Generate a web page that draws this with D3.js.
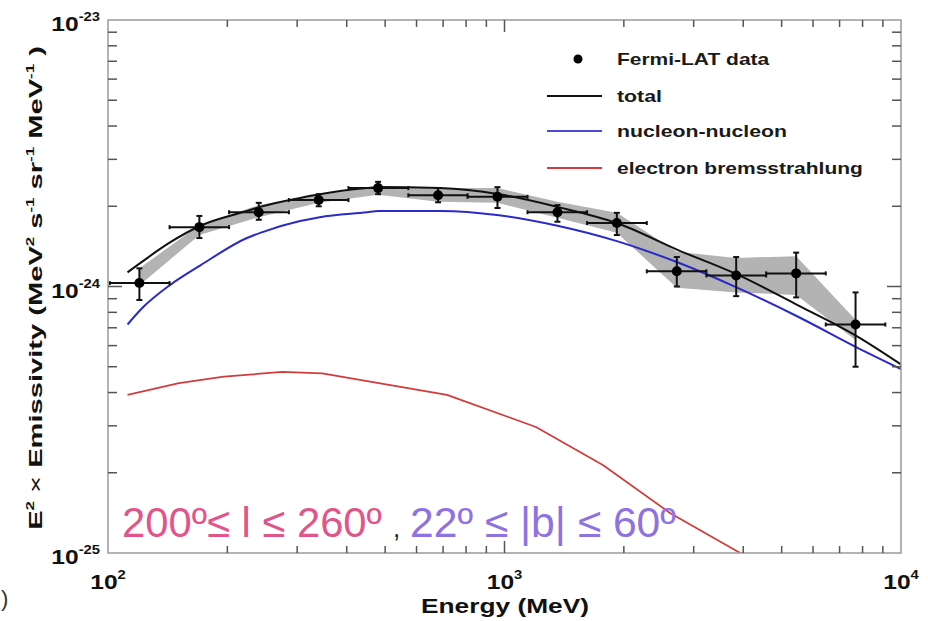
<!DOCTYPE html>
<html><head><meta charset="utf-8">
<script src="https://cdn.jsdelivr.net/npm/d3@7"></script>
<style>
html,body{margin:0;padding:0;background:#fff;}
svg{display:block;font-family:"Liberation Sans",Arial,sans-serif;}
</style></head><body>
<svg id="c" width="928" height="621"></svg>
<script>
// ---- Fermi-LAT data points ----
const energy  = [120,170,240,340,480,680,960,1360,1920,2720,3840,5440,7680];
const eLow    = [101,143,202,286,404,572,807,1143,1615,2285,3230,4570,6460];
const eHigh   = [143,202,286,404,572,807,1143,1615,2285,3230,4570,6460,9130];
const emis    = [1.03e-24,1.67e-24,1.90e-24,2.11e-24,2.34e-24,2.20e-24,2.17e-24,1.90e-24,1.73e-24,1.14e-24,1.10e-24,1.12e-24,0.72e-24];
const emisLo  = [0.89e-24,1.52e-24,1.78e-24,2.00e-24,2.22e-24,2.07e-24,1.97e-24,1.75e-24,1.56e-24,1.00e-24,0.92e-24,0.91e-24,0.50e-24];
const emisHi  = [1.17e-24,1.84e-24,2.06e-24,2.22e-24,2.47e-24,2.34e-24,2.36e-24,2.02e-24,1.89e-24,1.29e-24,1.29e-24,1.34e-24,0.95e-24];
// systematic band
const bandLo  = [1.01e-24,1.56e-24,1.82e-24,2.06e-24,2.21e-24,2.08e-24,2.06e-24,1.81e-24,1.59e-24,0.99e-24,0.95e-24,0.93e-24,0.63e-24];
const bandHi  = [1.17e-24,1.70e-24,2.02e-24,2.21e-24,2.36e-24,2.34e-24,2.34e-24,2.08e-24,1.89e-24,1.35e-24,1.28e-24,1.30e-24,0.75e-24];
// ---- model curves ----
const modelE  = [112,122,143,171,224,242,305,342,450,480,688,969,1360,1920,2740,3860,5500,7750,10000];
const total   = [1.13e-24,1.24e-24,1.46e-24,1.69e-24,1.92e-24,1.99e-24,2.15e-24,2.22e-24,2.34e-24,2.36e-24,2.34e-24,2.22e-24,1.99e-24,1.73e-24,1.37e-24,1.11e-24,0.85e-24,0.65e-24,0.51e-24];
const nucleon = [0.72e-24,0.83e-24,1.01e-24,1.20e-24,1.52e-24,1.59e-24,1.76e-24,1.82e-24,1.90e-24,1.92e-24,1.92e-24,1.85e-24,1.69e-24,1.48e-24,1.23e-24,0.99e-24,0.77e-24,0.59e-24,0.49e-24];
const bremsE  = [112,151,196,275,347,716,1200,1770,2620,3930,5500];
const brems   = [0.392e-24,0.434e-24,0.459e-24,0.478e-24,0.472e-24,0.392e-24,0.297e-24,0.214e-24,0.141e-24,0.100e-24,0.075e-24];
// ---- axes ----
const xMajor = [100,1000,10000];
const xMajorExp = ["2","3","4"];
const yMajor = [1e-25,1e-24,1e-23];
const yMajorExp = ["-25","-24","-23"];
const legendLabels = ["Fermi-LAT data","total","nucleon-nucleon","electron bremsstrahlung"];

const SX = 1.23; // horizontal stretch of text in the reference
const M = {l:108, r:901, t:20, b:553};
const x = d3.scaleLog().domain([100,1e4]).range([M.l,M.r]);
const y = d3.scaleLog().domain([1e-25,1e-23]).range([M.b,M.t]);
const svg = d3.select("#c");

svg.append("defs").append("clipPath").attr("id","clip")
  .append("rect").attr("x",M.l).attr("y",M.t).attr("width",M.r-M.l).attr("height",M.b-M.t);

const plot = svg.append("g").attr("clip-path","url(#clip)");

// band
const area = d3.area()
  .x((d,i)=>x(energy[i])).y0((d,i)=>y(bandLo[i])).y1((d,i)=>y(bandHi[i]));
plot.append("path").datum(energy).attr("d",area).attr("fill","#b3b3b3");

// model lines
const line = d3.line().x((d,i)=>x(modelE[i])).y(d=>y(d)).curve(d3.curveMonotoneX);
const lineB = d3.line().x((d,i)=>x(bremsE[i])).y(d=>y(d));
plot.append("path").datum(brems).attr("d",lineB).attr("fill","none").attr("stroke","#d23b3b").attr("stroke-width",1.7).attr("stroke-linejoin","round");
plot.append("path").datum(nucleon).attr("d",line).attr("fill","none").attr("stroke","#2a2ac8").attr("stroke-width",2);
plot.append("path").datum(total).attr("d",line).attr("fill","none").attr("stroke","#111").attr("stroke-width",2);

// error bars
const eb = plot.append("g").attr("stroke","#111").attr("stroke-width",2);
energy.forEach((e,i)=>{
  const cx=x(e), cy=y(emis[i]);
  eb.append("line").attr("x1",x(eLow[i])).attr("x2",x(eHigh[i])).attr("y1",cy).attr("y2",cy);
  eb.append("line").attr("x1",cx).attr("x2",cx).attr("y1",y(emisLo[i])).attr("y2",y(emisHi[i]));
  [eLow[i],eHigh[i]].forEach(v=>eb.append("line").attr("x1",x(v)).attr("x2",x(v)).attr("y1",cy-2).attr("y2",cy+2));
  [emisLo[i],emisHi[i]].forEach(v=>eb.append("line").attr("x1",cx-3).attr("x2",cx+3).attr("y1",y(v)).attr("y2",y(v)));
});
plot.append("g").selectAll("circle").data(energy).join("circle")
  .attr("cx",d=>x(d)).attr("cy",(d,i)=>y(emis[i])).attr("r",5).attr("fill","#000");

// frame
svg.append("rect").attr("x",M.l).attr("y",M.t).attr("width",M.r-M.l).attr("height",M.b-M.t)
  .attr("fill","none").attr("stroke","#9a9a9a").attr("stroke-width",1.5);

// ticks (inside, all four sides)
const tk = svg.append("g").attr("stroke","#555").attr("stroke-width",1.5);
x.ticks().forEach(t=>{
  const major = xMajor.includes(t);
  if (t<=100 || t>=10000) return;
  const L = major?12:7;
  tk.append("line").attr("x1",x(t)).attr("x2",x(t)).attr("y1",M.b).attr("y2",M.b-L);
  tk.append("line").attr("x1",x(t)).attr("x2",x(t)).attr("y1",M.t).attr("y2",M.t+L);
});
y.ticks().forEach(t=>{
  const lt = Math.log10(t);
  const major = Math.abs(lt-Math.round(lt))<1e-6;
  if (t<=1.0001e-25 || t>=0.9999e-23) return;
  const L = major?14:9;
  tk.append("line").attr("x1",M.l).attr("x2",M.l+L).attr("y1",y(t)).attr("y2",y(t));
  tk.append("line").attr("x1",M.r).attr("x2",M.r-L).attr("y1",y(t)).attr("y2",y(t));
});

// helper: stretched text group
function stext(px,py,anchor,sx,rot){
  const g = svg.append("g").attr("transform",`translate(${px},${py})`+(rot?` rotate(${rot})`:"")+` scale(${sx},1)`);
  return g.append("text").attr("text-anchor",anchor);
}
function fitText(px,py,anchor,width,rot,build){
  const g = svg.append("g").attr("transform",`translate(${px},${py})`+(rot?` rotate(${rot})`:""));
  const inner = g.append("g");
  const t = inner.append("text").attr("text-anchor",anchor);
  build(t);
  const w = t.node().getBBox().width;
  inner.attr("transform",`scale(${width/w},1)`);
  return t;
}

// tick labels
yMajor.forEach((v,i)=>{
  const t = stext(100,y(v)+11,"end",SX).attr("font-size",20).attr("font-weight","bold").attr("fill","#111");
  t.append("tspan").text("10");
  t.append("tspan").attr("font-size",12).attr("dy",-10).text(yMajorExp[i]);
});
xMajor.forEach((v,i)=>{
  const t = stext(x(v),589,"middle",SX).attr("font-size",20).attr("font-weight","bold").attr("fill","#111");
  t.append("tspan").text("10");
  t.append("tspan").attr("font-size",12).attr("dy",-10).text(xMajorExp[i]);
});

// axis titles
fitText(505,613,"middle",168,0,t=>{
  t.attr("font-size",21).attr("font-weight","bold").attr("fill","#111").text("Energy (MeV)");
});
fitText(42,288,"middle",484,-90,t=>{
  t.attr("font-size",19).attr("font-weight","bold").attr("fill","#111");
  t.append("tspan").text("E");
  t.append("tspan").attr("font-size",11).attr("dy",-8).text("2");
  t.append("tspan").attr("dy",8).attr("font-weight","normal").text(" × ");
  t.append("tspan").text("Emissivity (MeV");
  t.append("tspan").attr("font-size",11).attr("dy",-8).text("2");
  t.append("tspan").attr("dy",8).text(" s");
  t.append("tspan").attr("font-size",11).attr("dy",-8).text("-1");
  t.append("tspan").attr("dy",8).text(" sr");
  t.append("tspan").attr("font-size",11).attr("dy",-8).text("-1");
  t.append("tspan").attr("dy",8).text(" MeV");
  t.append("tspan").attr("font-size",11).attr("dy",-8).text("-1");
  t.append("tspan").attr("dy",8).text(" )");
});

// legend
const legY = [59,96,131,168];
const legW = [153,45,170,246];
svg.append("circle").attr("cx",578).attr("cy",legY[0]).attr("r",4.5).attr("fill","#000");
const legColors = [null,"#111","#4a4ad6","#d63a3a"];
[1,2,3].forEach(i=>{
  svg.append("line").attr("x1",547).attr("x2",602).attr("y1",legY[i]).attr("y2",legY[i])
    .attr("stroke",legColors[i]).attr("stroke-width",2);
});
legendLabels.forEach((s,i)=>{
  fitText(617,legY[i]+6,"start",legW[i],0,t=>{
    t.attr("font-size",17).attr("font-weight","bold").attr("fill","#1a1a1a").text(s);
  });
});

// region annotation
fitText(122,537,"start",260,0,t=>{
  t.attr("font-size",42).attr("fill","#e0558a").text("200º≤ l ≤ 260º");
});
svg.append("text").attr("x",393).attr("y",537).attr("font-size",26).attr("fill","#222").text(",");
fitText(410,537,"start",266,0,t=>{
  t.attr("font-size",42).attr("fill","#8f72e2").text("22º ≤ |b| ≤ 60º");
});

// stray panel-label fragment at bottom-left
svg.append("text").attr("x",1).attr("y",606).attr("font-size",22).attr("fill","#333").text(")");
</script>
</body></html>
